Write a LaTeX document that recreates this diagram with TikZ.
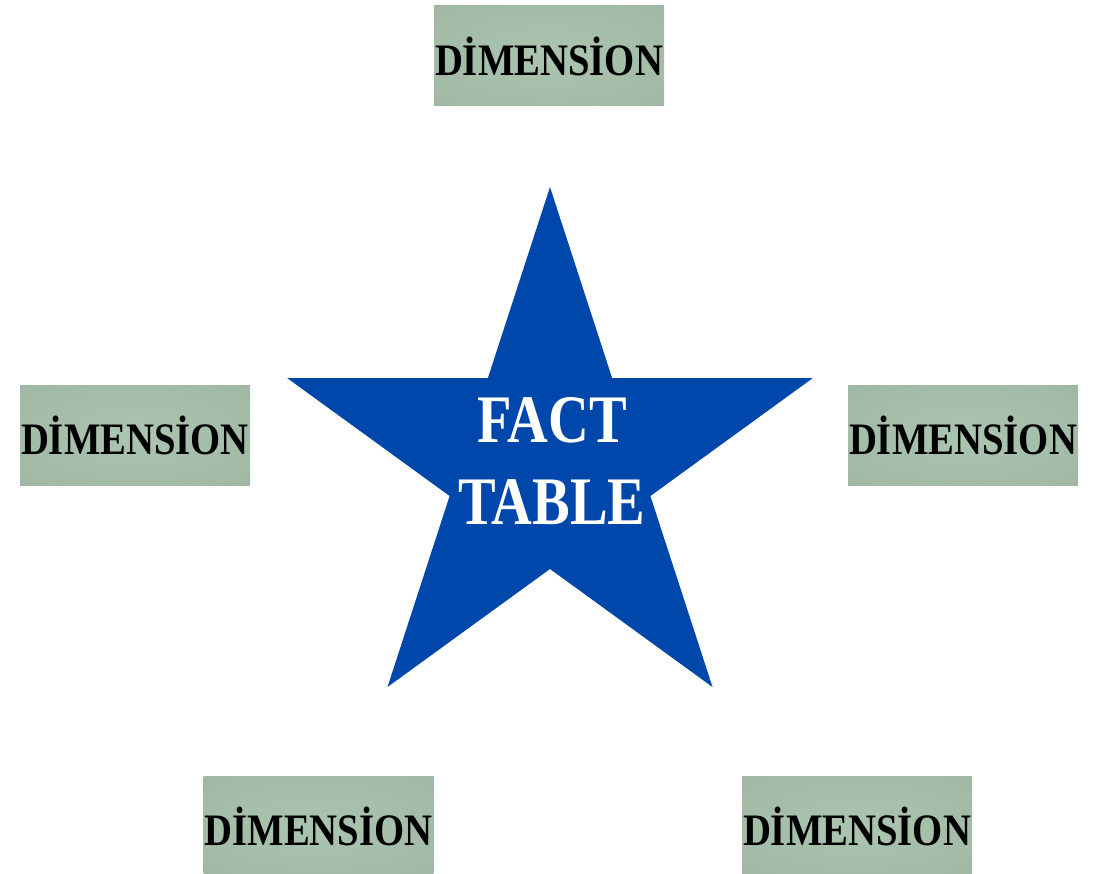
\documentclass[tikz,border=0pt]{standalone}
\usepackage{fontspec}
\setmainfont{Liberation Serif}
\usepackage{graphicx}
\usetikzlibrary{positioning}

\definecolor{factblue}{HTML}{0047AB}
\definecolor{dimlight}{HTML}{ABC5B0}
\definecolor{dimdark}{HTML}{93A997}
\pgfdeclareradialshading{dimshade}{\pgfpoint{0bp}{0bp}}{color(0bp)=(dimlight); color(30bp)=(dimlight!60!dimdark); color(55bp)=(dimdark); color(75bp)=(dimdark)}

\newcommand{\narrow}[2][0.86]{\scalebox{#1}[1]{#2}}

\begin{document}
\begin{tikzpicture}[x=1pt, y=-1pt,
    dimbox/.style={shading=dimshade, minimum width=230pt, minimum height=100pt, inner sep=0pt,
        font=\fontsize{45}{45}\selectfont\bfseries},
    facttext/.style={text=white, align=center, font=\fontsize{68}{82}\selectfont\bfseries}]
    \useasboundingbox (0,0) rectangle (1094,874);

    % star
    \fill[factblue] (550,187) \foreach \x/\y in {612.1/378,812.9/378,650.4/496,712.5/687,550/569,387.5/687,449.6/496,287.1/378,487.9/378} { -- (\x,\y) } -- cycle;
    \node[facttext] (fact) at (552,461) {\narrow[0.83]{FACT}\\\narrow[0.83]{TABLE}};

    % dimensions
    \node[dimbox] (dimtop) at (549,56) {\narrow{DİMENSİON}};
    \node[dimbox] (dimleft) at (135,435) {\narrow{DİMENSİON}};
    \node[dimbox] (dimright) at (963,435) {\narrow{DİMENSİON}};
    \node[dimbox] (dimbotleft) at (318.5,826) {\narrow{DİMENSİON}};
    \node[dimbox] (dimbotright) at (857,826) {\narrow{DİMENSİON}};
\end{tikzpicture}
\end{document}
